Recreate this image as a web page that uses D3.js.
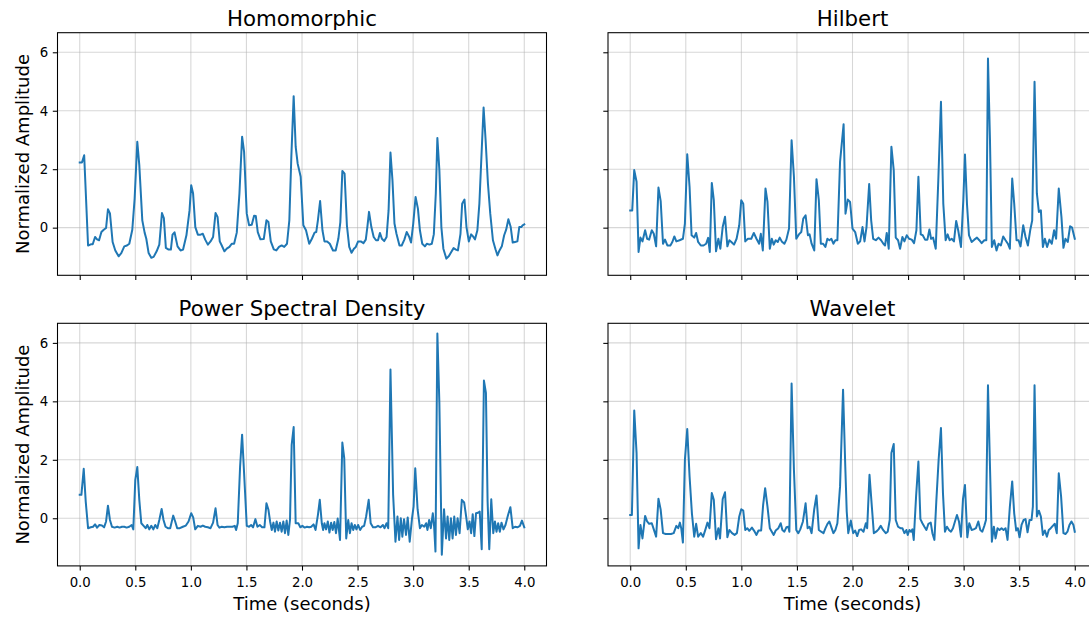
<!DOCTYPE html>
<html>
<head>
<meta charset="utf-8">
<script src="https://cdn.jsdelivr.net/npm/d3@7"></script>
<style>
  body { margin: 0; background: #ffffff; }
  text { font-family: "DejaVu Sans", sans-serif; }
</style>
</head>
<body>
<svg id="chart" width="1089" height="617"></svg>
<script>
// Tick values shared by every panel
const xTicks = [0, 0.5, 1, 1.5, 2, 2.5, 3, 3.5, 4];
const yTicks = [0, 2, 4, 6];

// Envelope traces: [time (s), normalized amplitude]
const homomorphic = [
  [0,2.23],[0.02,2.23],[0.04,2.48],[0.075,-0.61],[0.1,-0.57],[0.117,-0.57],[0.138,-0.32],[0.156,-0.40],
  [0.174,-0.43],[0.195,-0.15],[0.216,-0.07],[0.237,-0.01],[0.254,0.63],[0.272,0.49],[0.296,-0.49],[0.32,-0.78],
  [0.35,-0.98],[0.374,-0.87],[0.401,-0.64],[0.425,-0.61],[0.446,-0.55],[0.473,-0.07],[0.494,0.99],[0.518,2.94],
  [0.536,2.14],[0.563,0.25],[0.584,-0.17],[0.599,-0.38],[0.62,-0.87],[0.644,-1.03],[0.665,-1.0],[0.692,-0.81],
  [0.716,-0.58],[0.74,0.5],[0.757,0.33],[0.775,-0.69],[0.8,-0.75],[0.82,-0.75],[0.835,-0.24],[0.853,-0.16],
  [0.88,-0.64],[0.907,-0.78],[0.93,-0.75],[0.96,-0.26],[0.988,0.59],[1.003,1.45],[1.02,1.17],[1.04,0.02],
  [1.063,-0.24],[1.087,-0.24],[1.108,-0.21],[1.129,-0.41],[1.153,-0.58],[1.177,-0.47],[1.2,-0.32],[1.222,0.5],
  [1.24,0.37],[1.26,-0.47],[1.278,-0.61],[1.302,-0.81],[1.323,-0.72],[1.347,-0.66],[1.368,-0.55],[1.389,-0.55],
  [1.413,-0.17],[1.437,1.17],[1.461,3.11],[1.479,2.59],[1.503,0.48],[1.524,0.08],[1.548,0.1],[1.569,0.41],
  [1.584,0.4],[1.602,-0.15],[1.626,-0.4],[1.656,-0.39],[1.68,0.25],[1.698,0.19],[1.719,-0.47],[1.746,-0.74],
  [1.769,-0.78],[1.793,-0.66],[1.817,-0.61],[1.84,-0.66],[1.865,-0.55],[1.886,0.25],[1.904,2.42],[1.925,4.5],
  [1.943,2.77],[1.961,2.19],[1.988,1.74],[2.012,0.08],[2.036,-0.09],[2.065,-0.55],[2.089,-0.38],[2.113,-0.17],
  [2.128,-0.15],[2.143,0.25],[2.163,0.91],[2.184,-0.09],[2.202,-0.47],[2.226,-0.47],[2.25,-0.55],[2.279,-0.78],
  [2.303,-0.78],[2.327,-0.38],[2.345,0.19],[2.363,1.94],[2.383,1.85],[2.404,0.08],[2.425,-0.66],[2.446,-0.86],
  [2.467,-0.72],[2.484,-0.66],[2.505,-0.47],[2.529,-0.47],[2.553,-0.53],[2.574,-0.41],[2.588,0.02],[2.603,0.54],
  [2.624,0.02],[2.645,-0.32],[2.666,-0.43],[2.684,-0.43],[2.701,-0.18],[2.719,-0.38],[2.74,-0.46],[2.761,-0.32],
  [2.779,0.59],[2.796,2.57],[2.814,1.62],[2.832,0.14],[2.85,-0.21],[2.877,-0.61],[2.897,-0.61],[2.921,-0.41],
  [2.942,-0.15],[2.963,-0.3],[2.981,-0.51],[3.001,0.14],[3.022,1.05],[3.043,0.65],[3.061,-0.09],[3.082,-0.55],
  [3.106,-0.64],[3.123,-0.55],[3.147,-0.58],[3.168,-0.55],[3.186,-0.23],[3.204,1.17],[3.218,3.07],[3.236,1.97],
  [3.254,0.02],[3.272,-0.72],[3.299,-1.06],[3.322,-0.97],[3.343,-0.83],[3.364,-0.7],[3.385,-0.75],[3.403,-0.78],
  [3.426,-0.21],[3.441,0.82],[3.462,0.96],[3.48,0.02],[3.501,-0.47],[3.522,-0.23],[3.539,-0.3],[3.557,-0.4],
  [3.578,-0.09],[3.596,0.82],[3.617,2.65],[3.634,4.11],[3.652,3.0],[3.673,1.51],[3.694,0.48],[3.718,-0.43],
  [3.741,-0.74],[3.759,-0.95],[3.777,-0.78],[3.798,-0.64],[3.819,-0.26],[3.837,-0.07],[3.857,0.29],[3.878,0.02],
  [3.896,-0.51],[3.917,-0.49],[3.938,-0.47],[3.955,0.02],[3.973,0.02],[3.985,0.08],[4.0,0.11]
];

const hilbert = [
  [0,0.59],[0.018,0.59],[0.036,1.97],[0.057,1.57],[0.075,-0.83],[0.092,-0.34],[0.11,-0.47],[0.134,-0.09],
  [0.152,-0.38],[0.17,-0.41],[0.194,-0.09],[0.212,-0.21],[0.233,-0.64],[0.254,1.37],[0.274,0.91],[0.295,-0.55],
  [0.313,-0.41],[0.334,-0.61],[0.361,-0.61],[0.379,-0.49],[0.397,-0.3],[0.415,-0.47],[0.444,-0.43],[0.474,-0.38],
  [0.492,0.14],[0.513,2.51],[0.534,1.39],[0.552,-0.26],[0.576,-0.34],[0.593,-0.18],[0.611,-0.49],[0.635,-0.61],
  [0.659,-0.61],[0.683,-0.55],[0.701,-0.35],[0.716,-0.83],[0.734,1.53],[0.752,0.94],[0.772,-0.81],[0.793,-0.38],
  [0.811,-0.72],[0.832,0.02],[0.853,0.37],[0.874,-0.64],[0.892,-0.43],[0.91,-0.49],[0.934,-0.58],[0.957,-0.38],
  [0.981,0.08],[0.999,0.94],[1.017,0.82],[1.035,-0.47],[1.059,-0.38],[1.089,-0.38],[1.112,-0.18],[1.136,-0.38],
  [1.16,-0.55],[1.175,-0.21],[1.193,-0.78],[1.217,1.34],[1.235,0.88],[1.256,-0.72],[1.274,-0.38],[1.291,-0.58],
  [1.309,-0.43],[1.327,-0.49],[1.345,-0.34],[1.363,-0.47],[1.387,-0.55],[1.405,-0.41],[1.429,-0.03],[1.452,2.99],
  [1.473,1.74],[1.494,-0.38],[1.518,-0.23],[1.539,-0.15],[1.557,0.31],[1.578,0.42],[1.599,-0.26],[1.614,-0.23],
  [1.632,-0.55],[1.656,-0.78],[1.676,1.66],[1.697,0.94],[1.715,-0.55],[1.736,-0.55],[1.756,-0.66],[1.774,-0.38],
  [1.792,-0.43],[1.81,-0.38],[1.828,-0.55],[1.846,-0.43],[1.864,-0.43],[1.888,2.25],[1.92,3.54],[1.937,0.48],
  [1.958,0.96],[1.978,0.88],[2.0,-0.03],[2.024,-0.15],[2.048,-0.55],[2.069,-0.47],[2.09,0.02],[2.108,-0.47],
  [2.126,0.02],[2.15,1.49],[2.168,0.25],[2.186,-0.38],[2.21,-0.43],[2.234,-0.34],[2.257,-0.43],[2.278,-0.55],
  [2.293,-0.61],[2.308,-0.18],[2.326,-0.72],[2.35,2.77],[2.371,1.97],[2.389,-0.34],[2.41,-0.43],[2.428,-0.72],
  [2.449,-0.32],[2.467,-0.47],[2.488,-0.26],[2.509,-0.38],[2.533,-0.41],[2.554,-0.53],[2.575,-0.09],[2.593,1.74],
  [2.614,-0.23],[2.632,-0.26],[2.653,-0.41],[2.674,-0.41],[2.692,-0.06],[2.707,-0.38],[2.725,-0.34],[2.749,-0.72],
  [2.772,1.62],[2.796,4.31],[2.817,0.82],[2.838,-0.43],[2.856,-0.23],[2.874,-0.43],[2.892,-0.38],[2.913,-0.47],
  [2.933,0.23],[2.951,-0.09],[2.976,-0.66],[2.997,0.94],[3.012,2.5],[3.03,0.82],[3.048,-0.26],[3.072,-0.49],
  [3.096,-0.41],[3.12,-0.34],[3.141,-0.43],[3.162,-0.53],[3.186,-0.43],[3.204,-0.43],[3.219,5.79],[3.237,2.99],
  [3.254,-0.66],[3.275,-0.43],[3.296,-0.78],[3.314,-0.55],[3.335,-0.61],[3.356,-0.3],[3.377,-0.43],[3.398,-0.55],
  [3.416,-0.72],[3.437,1.68],[3.455,0.82],[3.476,-0.43],[3.494,-0.43],[3.512,-0.64],[3.536,0.08],[3.557,-0.32],
  [3.578,-0.61],[3.599,-0.09],[3.617,0.25],[3.638,4.99],[3.659,1.17],[3.677,0.54],[3.695,0.59],[3.713,-0.66],
  [3.731,-0.38],[3.751,-0.66],[3.772,-0.41],[3.793,-0.55],[3.814,-0.09],[3.832,-0.38],[3.856,1.34],[3.88,0.37],
  [3.898,-0.69],[3.916,-0.38],[3.937,-0.49],[3.958,0.05],[3.976,0.0],[4.0,-0.38]
];

const powerSpectral = [
  [0,0.8],[0.015,0.8],[0.036,1.69],[0.054,0.57],[0.075,-0.34],[0.099,-0.31],[0.12,-0.29],[0.138,-0.21],
  [0.156,-0.32],[0.177,-0.23],[0.2,-0.25],[0.219,-0.31],[0.237,-0.11],[0.254,0.43],[0.272,-0.06],[0.29,-0.29],
  [0.314,-0.32],[0.338,-0.29],[0.359,-0.32],[0.38,-0.29],[0.401,-0.29],[0.422,-0.32],[0.446,-0.29],[0.467,-0.23],
  [0.482,-0.38],[0.5,1.31],[0.518,1.75],[0.536,0.63],[0.554,-0.17],[0.575,-0.26],[0.593,-0.34],[0.608,-0.23],
  [0.626,-0.38],[0.644,-0.26],[0.662,-0.38],[0.68,-0.23],[0.698,-0.34],[0.716,-0.06],[0.737,0.32],[0.754,-0.06],
  [0.772,-0.29],[0.793,-0.34],[0.814,-0.34],[0.841,0.09],[0.859,-0.11],[0.877,-0.34],[0.901,-0.34],[0.928,-0.29],
  [0.955,-0.25],[0.979,-0.11],[1.003,0.17],[1.021,0.03],[1.039,-0.38],[1.063,-0.26],[1.087,-0.29],[1.108,-0.25],
  [1.129,-0.29],[1.153,-0.31],[1.177,-0.34],[1.2,-0.15],[1.222,0.34],[1.24,-0.23],[1.257,-0.32],[1.278,-0.29],
  [1.302,-0.31],[1.326,-0.29],[1.35,-0.29],[1.374,-0.29],[1.395,-0.26],[1.407,-0.4],[1.422,-0.17],[1.443,1.77],
  [1.461,2.86],[1.479,1.54],[1.503,-0.26],[1.524,-0.29],[1.542,-0.23],[1.56,-0.31],[1.581,-0.03],[1.599,-0.29],
  [1.62,-0.23],[1.641,-0.31],[1.662,-0.31],[1.68,0.51],[1.698,0.29],[1.713,-0.11],[1.728,-0.4],[1.743,-0.15],
  [1.757,-0.46],[1.772,-0.11],[1.787,-0.42],[1.802,-0.15],[1.817,-0.46],[1.832,-0.11],[1.847,-0.51],[1.862,-0.08],
  [1.877,-0.57],[1.892,-0.06],[1.907,2.51],[1.925,3.12],[1.943,-0.17],[1.967,-0.17],[1.985,-0.31],[2.003,-0.26],
  [2.024,-0.32],[2.045,-0.29],[2.065,-0.31],[2.083,-0.29],[2.104,-0.21],[2.122,-0.4],[2.143,0.11],[2.16,0.63],
  [2.178,-0.17],[2.19,-0.4],[2.202,-0.17],[2.217,-0.38],[2.232,-0.11],[2.247,-0.49],[2.262,-0.15],[2.276,-0.4],
  [2.291,-0.13],[2.306,-0.51],[2.321,-0.01],[2.342,-0.74],[2.363,2.59],[2.38,2.06],[2.398,-0.69],[2.416,-0.06],
  [2.431,-0.51],[2.446,-0.17],[2.461,-0.4],[2.475,-0.23],[2.49,-0.38],[2.505,-0.23],[2.523,-0.4],[2.541,-0.29],
  [2.559,-0.26],[2.577,0.06],[2.6,0.63],[2.618,-0.17],[2.639,-0.31],[2.66,-0.31],[2.684,-0.26],[2.707,-0.31],
  [2.728,-0.23],[2.743,-0.34],[2.761,-0.17],[2.776,-0.34],[2.796,5.09],[2.82,0.8],[2.841,-0.8],[2.859,0.06],
  [2.874,-0.74],[2.889,0.0],[2.903,-0.63],[2.918,-0.03],[2.936,-0.57],[2.951,0.03],[2.969,-0.8],[2.99,0.0],
  [3.004,0.4],[3.019,1.71],[3.04,0.31],[3.061,-0.34],[3.079,-0.23],[3.1,-0.29],[3.117,-0.17],[3.129,-0.4],
  [3.144,-0.06],[3.159,-0.34],[3.177,0.17],[3.189,-0.29],[3.201,-1.14],[3.218,6.32],[3.236,3.94],[3.258,-1.25],
  [3.278,0.31],[3.296,-0.69],[3.31,0.06],[3.325,-0.74],[3.34,0.0],[3.355,-0.69],[3.37,0.06],[3.385,-0.57],
  [3.4,0.0],[3.418,-0.51],[3.438,0.63],[3.459,0.54],[3.477,0.06],[3.492,-0.38],[3.507,-0.11],[3.522,-0.51],
  [3.536,0.14],[3.551,-0.61],[3.566,0.17],[3.584,0.19],[3.599,0.23],[3.617,-1.06],[3.637,4.71],[3.655,4.29],
  [3.67,0.57],[3.685,-1.06],[3.703,0.65],[3.721,-0.51],[3.736,-0.11],[3.75,-0.46],[3.765,-0.17],[3.78,-0.46],
  [3.795,-0.15],[3.813,-0.38],[3.831,-0.23],[3.854,0.11],[3.875,0.38],[3.896,-0.34],[3.917,-0.29],[3.938,-0.31],
  [3.961,-0.26],[3.979,-0.08],[4.0,-0.31]
];

const wavelet = [
  [0,0.11],[0.015,0.11],[0.036,3.69],[0.057,2.23],[0.075,-1.03],[0.092,-0.23],[0.11,-0.69],[0.134,0.08],
  [0.152,-0.11],[0.17,-0.19],[0.194,-0.17],[0.212,-0.38],[0.233,-0.63],[0.254,0.67],[0.274,0.29],[0.295,-0.51],
  [0.319,-0.54],[0.343,-0.54],[0.367,-0.54],[0.391,-0.51],[0.415,-0.26],[0.432,-0.34],[0.447,-0.15],[0.459,-0.34],
  [0.474,-0.83],[0.492,2.0],[0.513,3.05],[0.534,1.43],[0.555,0.17],[0.576,-0.63],[0.593,-0.19],[0.611,-0.63],
  [0.635,-0.51],[0.656,-0.63],[0.677,-0.38],[0.695,-0.15],[0.713,-0.34],[0.734,0.86],[0.752,0.63],[0.772,-0.72],
  [0.793,-0.34],[0.808,-0.69],[0.832,0.66],[0.853,0.89],[0.874,-0.65],[0.892,-0.4],[0.916,-0.51],[0.939,-0.57],
  [0.96,-0.51],[0.981,0.06],[0.999,0.31],[1.017,0.26],[1.035,-0.4],[1.053,-0.34],[1.071,-0.43],[1.095,-0.32],
  [1.115,-0.43],[1.136,-0.57],[1.154,-0.42],[1.178,-0.42],[1.196,0.46],[1.214,1.03],[1.235,0.4],[1.256,-0.34],
  [1.274,-0.46],[1.291,-0.57],[1.309,-0.42],[1.333,-0.34],[1.354,-0.17],[1.369,-0.4],[1.387,-0.46],[1.405,-0.31],
  [1.423,-0.29],[1.432,-0.46],[1.452,4.61],[1.473,1.66],[1.494,-0.4],[1.512,-0.51],[1.53,-0.38],[1.554,-0.11],
  [1.578,0.51],[1.596,-0.34],[1.614,-0.29],[1.632,-0.51],[1.655,0.29],[1.676,0.78],[1.697,-0.4],[1.718,-0.46],
  [1.739,-0.51],[1.757,-0.34],[1.775,-0.19],[1.792,-0.11],[1.81,-0.31],[1.828,-0.51],[1.846,-0.4],[1.864,-0.17],
  [1.888,1.09],[1.915,4.4],[1.935,1.77],[1.948,0.23],[1.962,-0.51],[1.985,-0.08],[2.006,-0.51],[2.024,-0.42],
  [2.042,-0.61],[2.06,-0.4],[2.078,-0.38],[2.099,-0.46],[2.12,-0.17],[2.132,-0.34],[2.153,1.49],[2.174,0.4],
  [2.192,-0.51],[2.213,-0.46],[2.234,-0.38],[2.254,-0.26],[2.275,-0.4],[2.299,-0.51],[2.317,-0.46],[2.335,-0.06],
  [2.35,2.23],[2.371,2.54],[2.389,-0.06],[2.41,-0.29],[2.431,-0.34],[2.449,-0.34],[2.467,-0.51],[2.485,-0.4],
  [2.497,-0.57],[2.512,-0.4],[2.527,-0.46],[2.539,-0.38],[2.551,-0.74],[2.572,0.74],[2.593,1.94],[2.611,-0.03],
  [2.629,-0.17],[2.647,-0.29],[2.665,-0.4],[2.683,-0.19],[2.704,-0.15],[2.719,-0.51],[2.737,-0.74],[2.754,0.57],
  [2.775,2.0],[2.796,3.09],[2.814,0.86],[2.832,-0.46],[2.85,-0.29],[2.868,-0.4],[2.886,-0.46],[2.904,-0.34],
  [2.922,-0.11],[2.94,0.11],[2.958,-0.11],[2.976,-0.63],[2.994,0.65],[3.012,1.14],[3.033,-0.65],[3.051,-0.17],
  [3.072,-0.4],[3.09,-0.38],[3.111,-0.34],[3.132,-0.11],[3.15,-0.4],[3.168,-0.46],[3.186,-0.26],[3.201,-0.06],
  [3.219,4.55],[3.237,1.77],[3.254,-0.8],[3.272,-0.29],[3.287,-0.69],[3.305,-0.34],[3.323,-0.4],[3.341,-0.34],
  [3.359,-0.4],[3.377,-0.34],[3.395,-0.74],[3.416,0.4],[3.437,1.26],[3.455,0.17],[3.473,-0.42],[3.488,-0.34],
  [3.503,-0.65],[3.521,-0.23],[3.539,-0.06],[3.557,-0.03],[3.575,-0.48],[3.593,-0.06],[3.611,-0.06],[3.623,0.4],
  [3.638,4.55],[3.659,0.06],[3.677,0.26],[3.695,0.06],[3.713,-0.57],[3.731,-0.42],[3.749,-0.63],[3.766,-0.4],
  [3.784,-0.34],[3.802,-0.26],[3.82,-0.19],[3.838,-0.51],[3.856,1.54],[3.877,0.74],[3.898,-0.51],[3.916,-0.54],
  [3.934,-0.46],[3.952,-0.23],[3.97,-0.11],[3.988,-0.23],[4.0,-0.46]
];

const panels = [
  { title: "Homomorphic",            data: homomorphic,   col: 0, row: 0 },
  { title: "Hilbert",                data: hilbert,       col: 1, row: 0 },
  { title: "Power Spectral Density", data: powerSpectral, col: 0, row: 1 },
  { title: "Wavelet",                data: wavelet,       col: 1, row: 1 }
];

// Layout of the 2x2 grid of axes
const colLeft = [57.5, 608];
const rowTop = [32.7, 323.3];
const plotW = 489, plotH = 242.6;
const xDomain = [-0.2, 4.2];
const yDomain = [-1.63, 6.67];
const tickLen = 4.7;

const svg = d3.select("#chart");

panels.forEach(p => {
  const left = colLeft[p.col], top = rowTop[p.row];
  const x = d3.scaleLinear().domain(xDomain).range([left, left + plotW]);
  const y = d3.scaleLinear().domain(yDomain).range([top + plotH, top]);
  const g = svg.append("g");

  // grid lines
  g.append("g").selectAll("line").data(xTicks).join("line")
    .attr("x1", d => x(d)).attr("x2", d => x(d))
    .attr("y1", top).attr("y2", top + plotH)
    .attr("stroke", "#b0b0b0").attr("stroke-opacity", 0.5).attr("stroke-width", 1.07);
  g.append("g").selectAll("line").data(yTicks).join("line")
    .attr("x1", left).attr("x2", left + plotW)
    .attr("y1", d => y(d)).attr("y2", d => y(d))
    .attr("stroke", "#b0b0b0").attr("stroke-opacity", 0.5).attr("stroke-width", 1.07);

  // trace
  const line = d3.line().x(d => x(d[0])).y(d => y(d[1]));
  g.append("path").datum(p.data)
    .attr("d", line)
    .attr("fill", "none")
    .attr("stroke", "#1f77b4")
    .attr("stroke-width", 2)
    .attr("stroke-linejoin", "round")
    .attr("stroke-linecap", "square");

  // axes
  const showX = p.row === 1, showY = p.col === 0;
  const xAxis = d3.axisBottom(x).tickValues(xTicks).tickSize(tickLen).tickPadding(7)
    .tickFormat(showX ? d3.format(".1f") : () => "");
  const yAxis = d3.axisLeft(y).tickValues(yTicks).tickSize(tickLen).tickPadding(4.7)
    .tickFormat(showY ? d3.format("d") : () => "");

  const gx = g.append("g").attr("transform", `translate(0,${top + plotH})`).call(xAxis);
  const gy = g.append("g").attr("transform", `translate(${left},0)`).call(yAxis);
  [gx, gy].forEach(a => {
    a.select(".domain").remove();
    a.selectAll(".tick line").attr("stroke", "#000").attr("stroke-width", 1.07);
    a.selectAll(".tick text").attr("fill", "#000").style("font-size", "13.3px")
      .style("font-family", "'DejaVu Sans', sans-serif");
  });

  // frame
  g.append("rect")
    .attr("x", left).attr("y", top).attr("width", plotW).attr("height", plotH)
    .attr("fill", "none").attr("stroke", "#000").attr("stroke-width", 1.07);

  // title
  g.append("text")
    .attr("x", left + plotW / 2).attr("y", top - 7)
    .attr("text-anchor", "middle")
    .style("font-size", "21.3px")
    .attr("fill", "#000")
    .text(p.title);

  if (showY) {
    g.append("text")
      .attr("transform", `translate(29,${top + plotH / 2}) rotate(-90)`)
      .attr("text-anchor", "middle")
      .style("font-size", "18px")
      .attr("fill", "#000")
      .text("Normalized Amplitude");
  }
  if (showX) {
    g.append("text")
      .attr("x", left + plotW / 2).attr("y", 610)
      .attr("text-anchor", "middle")
      .style("font-size", "18px")
      .attr("fill", "#000")
      .text("Time (seconds)");
  }
});
</script>
</body>
</html>
